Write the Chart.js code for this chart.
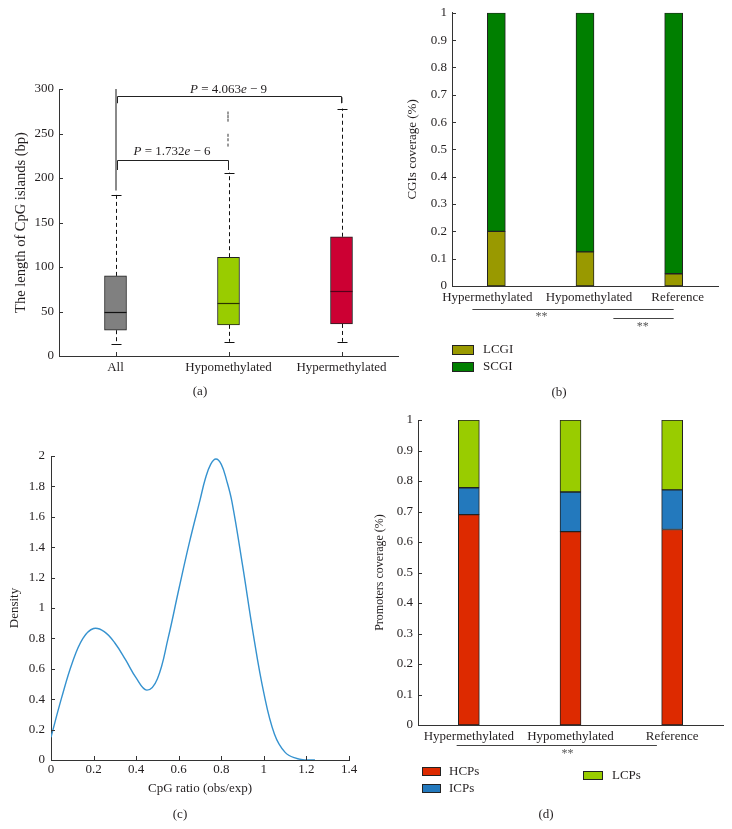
<!DOCTYPE html>
<html><head><meta charset="utf-8">
<script src="https://cdn.jsdelivr.net/npm/chart.js@4.4.0/dist/chart.umd.min.js"></script>
<style>
html,body{margin:0;padding:0;background:#fff;width:732px;height:829px;overflow:hidden}
canvas{position:absolute;left:0;top:0}
</style></head><body>
<canvas id="ca" width="732" height="829"></canvas>
<canvas id="cb" width="732" height="829"></canvas>
<canvas id="cc" width="732" height="829"></canvas>
<canvas id="cd" width="732" height="829"></canvas>
<script>
// ---------- Panel (a): box plot data ----------
const boxCategories = ['All', 'Hypomethylated', 'Hypermethylated'];
const boxLow = [14, 16, 16];
const boxQ1 = [29, 35, 36];
const boxMedian = [50, 59, 73];
const boxQ3 = [90, 111, 134];
const boxHigh = [181, 206, 278];
const allOutlierRange = [186, 300];
const hypoOutliers = [273, 269, 265, 248, 243, 237];
const hyperOutliers = [286, 289];
const pFrom = [0, 0];
const pTo = [1, 2];
const pLineY = [220, 292];
const pDropY = [209, 284];
const pTextY = [230, 299];
const pMantissa = ['1.732', '4.063'];
const pExponent = ['6', '9'];

// ---------- Panel (b): CGI coverage ----------
const cgiCategories = ['Hypermethylated', 'Hypomethylated', 'Reference'];
const lcgi = [0.2, 0.125, 0.045];
const scgi = [0.8, 0.875, 0.955];

// ---------- Panel (c): density ----------
const cpgRatio = [0, 0.05, 0.1, 0.15, 0.2, 0.25, 0.3, 0.35, 0.4, 0.45, 0.5, 0.55, 0.6, 0.65, 0.7, 0.725, 0.75, 0.775, 0.8, 0.825, 0.85, 0.9, 0.95, 1.0, 1.05, 1.1, 1.15, 1.2, 1.24];
const density = [0.15, 0.41, 0.64, 0.80, 0.865, 0.845, 0.77, 0.66, 0.54, 0.46, 0.535, 0.80, 1.12, 1.43, 1.71, 1.85, 1.945, 1.98, 1.945, 1.84, 1.70, 1.28, 0.83, 0.44, 0.17, 0.05, 0.012, 0.0, 0.0];

// ---------- Panel (d): promoter coverage ----------
const promoterCategories = ['Hypermethylated', 'Hypomethylated', 'Reference'];
const hcps = [0.69, 0.634, 0.641];
const icps = [0.088, 0.130, 0.130];
const lcps = [0.222, 0.236, 0.229];

const SERIF = '"Liberation Serif", "Times New Roman", serif';
Chart.defaults.font.family = SERIF;
Chart.defaults.font.size = 13;
Chart.defaults.color = '#231f20';
Chart.defaults.plugins.legend.display = false;
Chart.defaults.plugins.tooltip.enabled = false;
const AX = '#333';
const GRID = { display: false, drawTicks: false };
const fmt = v => String(+Number(v).toFixed(2));

const innerTicks = {
  id: 'innerTicks',
  afterDraw(chart, args, opts) {
    const ctx = chart.ctx;
    ctx.save();
    ctx.strokeStyle = AX; ctx.lineWidth = 1;
    (opts.axes || []).forEach(id => {
      const s = chart.scales[id];
      s.ticks.forEach((t, i) => {
        const p = Math.round(s.getPixelForTick(i)) + 0.5;
        ctx.beginPath();
        if (s.isHorizontal()) { ctx.moveTo(p, s.top); ctx.lineTo(p, s.top - 4); }
        else { ctx.moveTo(s.right, p); ctx.lineTo(s.right + 4, p); }
        ctx.stroke();
      });
    });
    ctx.restore();
  }
};

function text(ctx, str, x, y, opts = {}) {
  ctx.save();
  ctx.font = (opts.style || '') + ' ' + (opts.size || 13) + 'px ' + SERIF;
  ctx.fillStyle = opts.color || '#231f20';
  ctx.textAlign = opts.align || 'center';
  ctx.textBaseline = 'middle';
  ctx.fillText(str, x, y);
  ctx.restore();
}
function mixedText(ctx, parts, cx, y) {
  ctx.save();
  ctx.textBaseline = 'middle';
  let total = 0;
  const w = parts.map(p => { ctx.font = (p[1] ? 'italic ' : '') + '13px ' + SERIF; const m = ctx.measureText(p[0]).width; total += m; return m; });
  let x = cx - total / 2;
  parts.forEach((p, i) => {
    ctx.font = (p[1] ? 'italic ' : '') + '13px ' + SERIF;
    ctx.fillStyle = '#231f20';
    ctx.textAlign = 'left';
    ctx.fillText(p[0], x, y);
    x += w[i];
  });
  ctx.restore();
}
function hline(ctx, x1, x2, y, color) {
  ctx.save(); ctx.strokeStyle = color || '#333'; ctx.lineWidth = 1;
  ctx.beginPath(); ctx.moveTo(x1, Math.round(y) + 0.5); ctx.lineTo(x2, Math.round(y) + 0.5); ctx.stroke(); ctx.restore();
}
function legendBox(ctx, x, y, w, h, color, label, tx) {
  ctx.save();
  ctx.fillStyle = color; ctx.fillRect(x, y, w, h);
  ctx.strokeStyle = '#222'; ctx.lineWidth = 1; ctx.strokeRect(x + 0.5, y + 0.5, w - 1, h - 1);
  ctx.restore();
  text(ctx, label, tx, y + h / 2, { align: 'left' });
}

// ================= Panel (a) =================
const boxExtras = {
  id: 'boxExtras',
  beforeDatasetsDraw(chart) {
    const x = chart.scales.x, y = chart.scales.y, ctx = chart.ctx;
    ctx.save();
    ctx.strokeStyle = '#8a8a8a'; ctx.lineWidth = 2;
    const ax = Math.round(x.getPixelForValue(0));
    ctx.beginPath(); ctx.moveTo(ax, y.getPixelForValue(allOutlierRange[0])); ctx.lineTo(ax, y.getPixelForValue(allOutlierRange[1])); ctx.stroke();
    ctx.strokeStyle = '#111'; ctx.lineWidth = 1; ctx.setLineDash([4, 3]);
    boxCategories.forEach((c, i) => {
      const cx = Math.round(x.getPixelForValue(i)) + 0.5;
      ctx.beginPath();
      ctx.moveTo(cx, y.getPixelForValue(boxQ3[i])); ctx.lineTo(cx, y.getPixelForValue(boxHigh[i]));
      ctx.moveTo(cx, y.getPixelForValue(boxQ1[i])); ctx.lineTo(cx, y.getPixelForValue(boxLow[i]));
      ctx.stroke();
    });
    ctx.setLineDash([]);
    boxCategories.forEach((c, i) => {
      const cx = Math.round(x.getPixelForValue(i)) + 0.5;
      [boxHigh[i], boxLow[i]].forEach(v => {
        const py = Math.round(y.getPixelForValue(v)) + 0.5;
        ctx.beginPath(); ctx.moveTo(cx - 5, py); ctx.lineTo(cx + 5, py); ctx.stroke();
      });
    });
    ctx.fillStyle = '#9a9a9a';
    hypoOutliers.forEach(v => { ctx.fillRect(Math.round(x.getPixelForValue(1)) - 2, y.getPixelForValue(v) - 1.5, 2, 3); });
    hyperOutliers.forEach(v => { ctx.fillRect(Math.round(x.getPixelForValue(2)) - 1, y.getPixelForValue(v) - 1.5, 2, 3); });
    ctx.restore();
  },
  afterDatasetsDraw(chart) {
    const x = chart.scales.x, y = chart.scales.y, ctx = chart.ctx;
    ctx.save();
    const medCol = ['#111', '#2a3300', '#55001a'];
    boxCategories.forEach((c, i) => {
      const cx = x.getPixelForValue(i);
      const py = Math.round(y.getPixelForValue(boxMedian[i])) + 0.5;
      ctx.strokeStyle = medCol[i]; ctx.lineWidth = 1.2;
      ctx.beginPath(); ctx.moveTo(cx - 11, py); ctx.lineTo(cx + 11, py); ctx.stroke();
    });
    ctx.strokeStyle = '#222'; ctx.lineWidth = 1;
    pFrom.forEach((f, k) => {
      const x1 = Math.round(x.getPixelForValue(f)) + 1.5, x2 = Math.round(x.getPixelForValue(pTo[k])) - 0.5;
      const yl = Math.round(y.getPixelForValue(pLineY[k])) + 0.5, yd = y.getPixelForValue(pDropY[k]);
      ctx.beginPath(); ctx.moveTo(x1, yd); ctx.lineTo(x1, yl); ctx.lineTo(x2, yl); ctx.lineTo(x2, yd); ctx.stroke();
      const cxt = (x.getPixelForValue(f) + x.getPixelForValue(pTo[k])) / 2;
      mixedText(ctx, [['P', 1], [' = ' + pMantissa[k], 0], ['e', 1], [' \u2212 ' + pExponent[k], 0]], cxt, y.getPixelForValue(pTextY[k]));
    });
    ctx.restore();
  },
  afterDraw(chart) { text(chart.ctx, '(a)', 200, 392); }
};

new Chart(document.getElementById('ca'), {
  type: 'bar',
  data: {
    labels: boxCategories,
    datasets: [{
      label: 'IQR',
      data: boxCategories.map((c, i) => [boxQ1[i], boxQ3[i]]),
      backgroundColor: ['#808080', '#99cc00', '#cc0033'],
      borderColor: '#222', borderWidth: 1, borderSkipped: false, barThickness: 22
    }]
  },
  options: {
    responsive: false, animation: false, devicePixelRatio: 1,
    layout: { padding: { left: 0, top: 89, right: 334, bottom: 443 } },
    scales: {
      x: { grid: GRID, border: { color: AX }, ticks: { padding: 4, maxRotation: 0, autoSkip: false }, afterFit(s) { s.height = 30; } },
      y: { min: 0, max: 300, grid: GRID, border: { color: AX },
           ticks: { stepSize: 50, padding: 5 },
           title: { display: true, text: 'The length of CpG islands (bp)', font: { size: 14.5 }, padding: { top: 12, bottom: 0 } },
           afterFit(s) { s.width = 59; } }
    },
    plugins: { innerTicks: { axes: ['x', 'y'] } }
  },
  plugins: [boxExtras, innerTicks]
});

// ================= Panel (b) =================
const bLabelShift = [-9, 4, 4];
const bExtras = {
  id: 'bExtras',
  afterDraw(chart) {
    const ctx = chart.ctx, x = chart.scales.x;
    chart.data.labels.forEach((lab, i) => text(ctx, lab, x.getPixelForValue(i) + bLabelShift[i], x.top + 12));
    const p = v => x.getPixelForValue(0) + v * (x.getPixelForValue(1) - x.getPixelForValue(0));
    hline(ctx, p(-0.27), p(2), 309, '#444');
    text(ctx, '**', p(0.51), 317, { size: 12, color: '#555' });
    hline(ctx, p(1.32), p(2), 318, '#444');
    text(ctx, '**', p(1.65), 327, { size: 12, color: '#555' });
    const ds = chart.data.datasets;
    legendBox(ctx, 452, 345, 22, 10, ds[0].backgroundColor, ds[0].label, 483);
    legendBox(ctx, 452, 362, 22, 10, ds[1].backgroundColor, ds[1].label, 483);
    text(ctx, '(b)', 559, 393);
  }
};
new Chart(document.getElementById('cb'), {
  type: 'bar',
  data: {
    labels: cgiCategories,
    datasets: [
      { label: 'LCGI', data: lcgi, backgroundColor: '#999900', borderColor: '#222', borderWidth: 1, borderSkipped: false, barThickness: 18 },
      { label: 'SCGI', data: scgi, backgroundColor: '#007f00', borderColor: '#222', borderWidth: 1, borderSkipped: false, barThickness: 18 }
    ]
  },
  options: {
    responsive: false, animation: false, devicePixelRatio: 1,
    layout: { padding: { left: 380, top: 12, right: 14, bottom: 513 } },
    scales: {
      x: { stacked: true, grid: GRID, border: { color: AX }, ticks: { display: false }, afterFit(s) { s.height = 30; } },
      y: { stacked: true, min: 0, max: 1, grid: GRID, border: { color: AX },
           ticks: { stepSize: 0.1, padding: 5, callback: fmt },
           title: { display: true, text: 'CGIs coverage (%)', padding: { top: 25, bottom: 0 } },
           afterFit(s) { s.width = 72; } }
    },
    plugins: { innerTicks: { axes: ['y'] } }
  },
  plugins: [bExtras, innerTicks]
});

// ================= Panel (c) =================
new Chart(document.getElementById('cc'), {
  type: 'line',
  data: {
    datasets: [{
      label: 'Density',
      data: cpgRatio.map((r, i) => ({ x: r, y: density[i] })),
      borderColor: '#3592cf', borderWidth: 1.4, pointRadius: 0, fill: false,
      tension: 0.4
    }]
  },
  options: {
    responsive: false, animation: false, devicePixelRatio: 1,
    layout: { padding: { left: 0, top: 456, right: 383, bottom: 29 } },
    scales: {
      x: { type: 'linear', min: 0, max: 1.4, grid: GRID, border: { color: AX },
           ticks: { stepSize: 0.2, padding: 2, callback: fmt, maxRotation: 0 },
           title: { display: true, text: 'CpG ratio (obs/exp)', padding: { top: 0, bottom: 4 } },
           afterFit(s) { s.height = 40; } },
      y: { min: 0, max: 2, grid: GRID, border: { color: AX },
           ticks: { stepSize: 0.2, padding: 6, callback: fmt },
           title: { display: true, text: 'Density', padding: { top: 7, bottom: 0 } },
           afterFit(s) { s.width = 51; } }
    },
    plugins: { innerTicks: { axes: ['x', 'y'] } }
  },
  plugins: [innerTicks, { id: 'cLabel', afterDraw(chart) { text(chart.ctx, '(c)', 180, 815); } }]
});

// ================= Panel (d) =================
const dExtras = {
  id: 'dExtras',
  afterDraw(chart) {
    const ctx = chart.ctx, x = chart.scales.x;
    const p = v => x.getPixelForValue(0) + v * (x.getPixelForValue(1) - x.getPixelForValue(0));
    hline(ctx, p(-0.12), p(1.85), 745, '#444');
    text(ctx, '**', p(0.97), 754, { size: 12, color: '#555' });
    const ds = chart.data.datasets;
    legendBox(ctx, 422, 767, 19, 9, ds[0].backgroundColor, ds[0].label, 449);
    legendBox(ctx, 422, 784, 19, 9, ds[1].backgroundColor, ds[1].label, 449);
    legendBox(ctx, 583, 771, 20, 9, ds[2].backgroundColor, ds[2].label, 612);
    text(ctx, '(d)', 546, 815);
  }
};
new Chart(document.getElementById('cd'), {
  type: 'bar',
  data: {
    labels: promoterCategories,
    datasets: [
      { label: 'HCPs', data: hcps, backgroundColor: '#dd2a00', borderColor: '#222', borderWidth: 1, borderSkipped: false, barThickness: 21 },
      { label: 'ICPs', data: icps, backgroundColor: '#2379bd', borderColor: '#222', borderWidth: 1, borderSkipped: false, barThickness: 21 },
      { label: 'LCPs', data: lcps, backgroundColor: '#99cc00', borderColor: '#222', borderWidth: 1, borderSkipped: false, barThickness: 21 }
    ]
  },
  options: {
    responsive: false, animation: false, devicePixelRatio: 1,
    layout: { padding: { left: 370, top: 420, right: 9, bottom: 74 } },
    scales: {
      x: { stacked: true, grid: GRID, border: { color: AX }, ticks: { padding: 4, maxRotation: 0, autoSkip: false }, afterFit(s) { s.height = 30; } },
      y: { stacked: true, min: 0, max: 1, grid: GRID, border: { color: AX },
           ticks: { stepSize: 0.1, padding: 5, callback: fmt },
           title: { display: true, text: 'Promoters coverage (%)', font: { size: 12 }, padding: { top: 3, bottom: 0 } },
           afterFit(s) { s.width = 48; } }
    },
    plugins: { innerTicks: { axes: ['y'] } }
  },
  plugins: [dExtras, innerTicks]
});
</script>
</body></html>
